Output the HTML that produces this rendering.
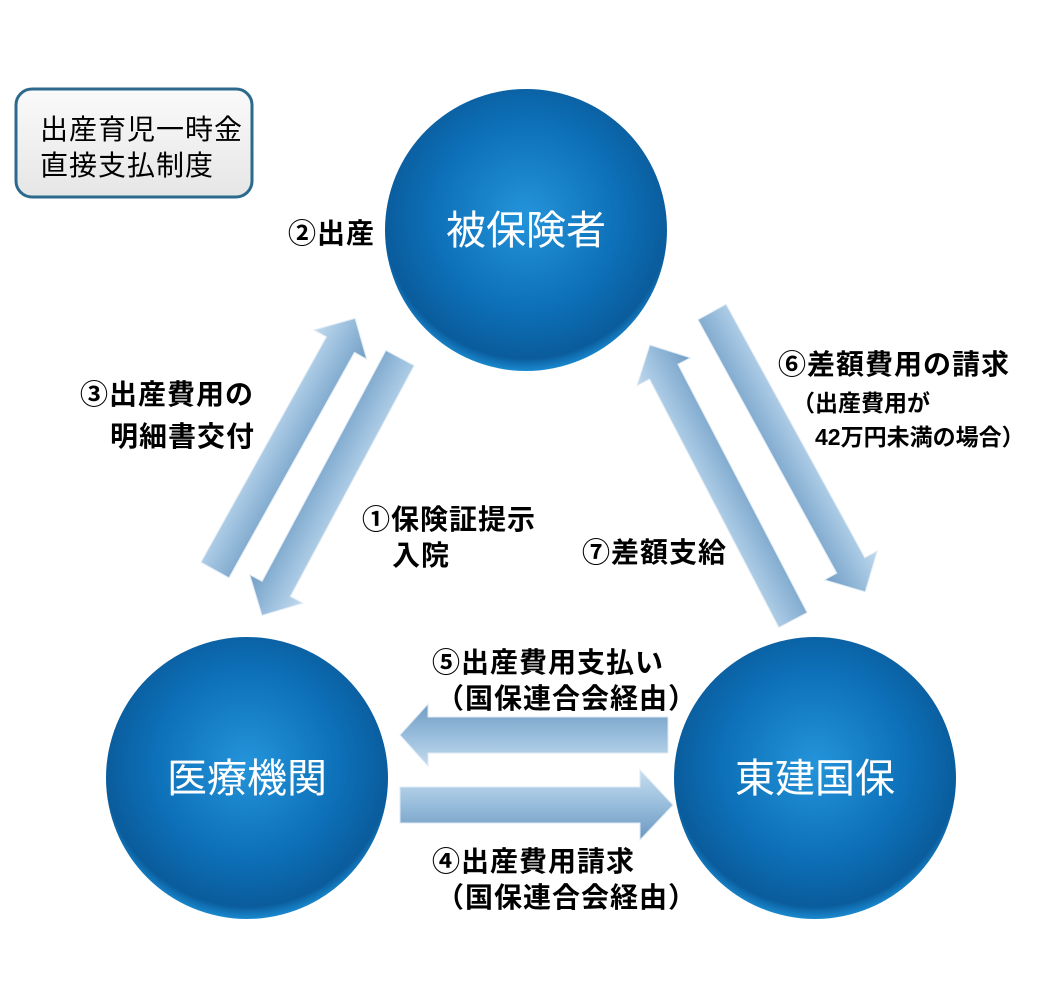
<!DOCTYPE html>
<html><head><meta charset="utf-8"><style>
html,body{margin:0;padding:0;background:#fff;}
body{width:1051px;height:1004px;overflow:hidden;position:relative;font-family:"Liberation Sans","Noto Sans CJK JP",sans-serif;}
.t{position:absolute;font-size:28px;font-weight:bold;color:#000;white-space:nowrap;line-height:1;letter-spacing:1px;}
.s{font-size:23px;letter-spacing:0;}
</style></head><body>
<svg width="1051" height="1004" style="position:absolute;left:0;top:0">
<defs>
<radialGradient id="cg" cx="50%" cy="45%" r="55%">
<stop offset="0" stop-color="#2494da"/>
<stop offset="0.6" stop-color="#0d70b8"/>
<stop offset="0.92" stop-color="#0a5c9c"/>
<stop offset="1" stop-color="#1a8ad0"/>
</radialGradient>
<linearGradient id="ag" x1="0" y1="-35" x2="0" y2="35" gradientUnits="userSpaceOnUse">
<stop offset="0" stop-color="#c8def0"/>
<stop offset="0.45" stop-color="#9cc0de"/>
<stop offset="1" stop-color="#6b98c0"/>
</linearGradient>
<linearGradient id="bg" x1="0" y1="0" x2="0" y2="1">
<stop offset="0" stop-color="#fafafa"/><stop offset="1" stop-color="#e6e6e6"/>
</linearGradient>
</defs>
<rect x="16" y="89" width="236" height="108" rx="16" fill="url(#bg)" stroke="#2b6a8c" stroke-width="3"/>
<circle cx="526" cy="230" r="141" fill="url(#cg)"/>
<circle cx="247" cy="778" r="141" fill="url(#cg)"/>
<circle cx="815" cy="778" r="141" fill="url(#cg)"/>
<g transform="translate(215,570) rotate(-60.9)"><polygon fill="url(#ag)" stroke="#dfeaf4" stroke-width="1" points="0,-16 258,-16 258,-30 288,0 258,30 258,16 0,16"/></g>
<g transform="translate(400,358) rotate(118.2)"><polygon fill="url(#ag)" stroke="#dfeaf4" stroke-width="1" points="0,-16 262,-16 262,-30 292,0 262,30 262,16 0,16"/></g>
<g transform="translate(793,620) rotate(-117.5)"><polygon fill="url(#ag)" stroke="#dfeaf4" stroke-width="1" points="0,-16 280,-16 280,-30 310,0 280,30 280,16 0,16"/></g>
<g transform="translate(712,312) rotate(61.3)"><polygon fill="url(#ag)" stroke="#dfeaf4" stroke-width="1" points="0,-16 289,-16 289,-30 319,0 289,30 289,16 0,16"/></g>
<g transform="translate(668,735) rotate(180)"><polygon fill="url(#ag)" stroke="#dfeaf4" stroke-width="1" points="0,-18 240,-18 240,-31 268,0 240,31 240,18 0,18"/></g>
<g transform="translate(400,805)"><polygon fill="url(#ag)" stroke="#dfeaf4" stroke-width="1" points="0,-18 240,-18 240,-35 273,0 240,35 240,18 0,18"/></g>
<text x="526" y="244" fill="#fff" font-size="40" text-anchor="middle" font-family="Liberation Sans, Noto Sans CJK JP, sans-serif">被保険者</text>
<text x="247" y="792" fill="#fff" font-size="40" text-anchor="middle" font-family="Liberation Sans, Noto Sans CJK JP, sans-serif">医療機関</text>
<text x="815" y="792" fill="#fff" font-size="40" text-anchor="middle" font-family="Liberation Sans, Noto Sans CJK JP, sans-serif">東建国保</text>
</svg>
<div class="t" style="left:40px;top:116px;font-weight:normal">出産育児一時金</div>
<div class="t" style="left:40px;top:152px;font-weight:normal">直接支払制度</div>
<div class="t" style="left:288px;top:220px">②出産</div>
<div class="t" style="left:80px;top:381px">③出産費用の</div>
<div class="t" style="left:110px;top:423px">明細書交付</div>
<div class="t" style="left:362px;top:506px">①保険証提示</div>
<div class="t" style="left:392px;top:542px">入院</div>
<div class="t" style="left:582px;top:539px">⑦差額支給</div>
<div class="t" style="left:778px;top:351px">⑥差額費用の請求</div>
<div class="t s" style="left:792px;top:392px">（出産費用が</div>
<div class="t s" style="left:815px;top:426px">42万円未満の場合）</div>
<div class="t" style="left:432px;top:649px">⑤出産費用支払い</div>
<div class="t" style="left:436px;top:685px">（国保連合会経由）</div>
<div class="t" style="left:432px;top:848px">④出産費用請求</div>
<div class="t" style="left:436px;top:884px">（国保連合会経由）</div>
</body></html>
